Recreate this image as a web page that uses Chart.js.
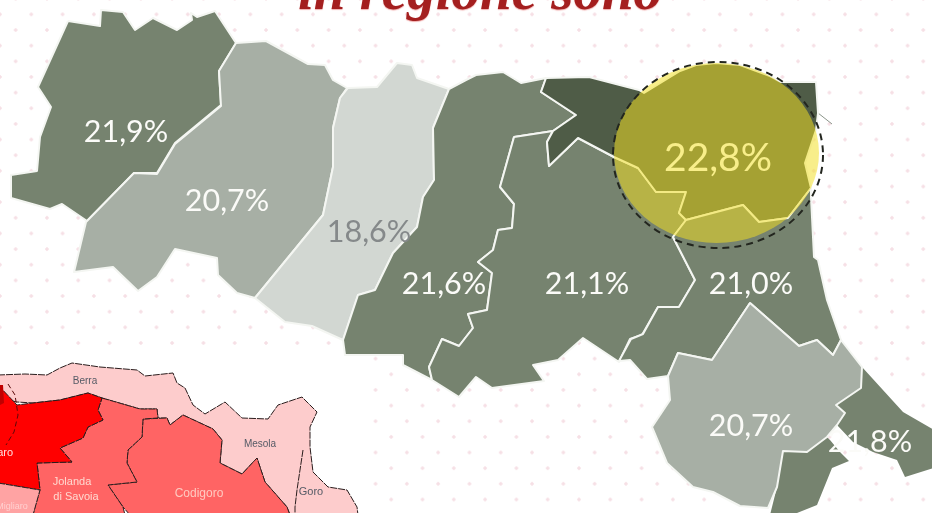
<!DOCTYPE html>
<html lang="it">
<head>
<meta charset="utf-8">
<title>in regione sono</title>
<script src="https://cdn.jsdelivr.net/npm/chart.js"></script>
<style>
  html, body { margin: 0; padding: 0; width: 932px; height: 513px; overflow: hidden; }
  body {
    background-color: #fff;
    background-image:
      radial-gradient(circle, #f6dfe5 1.4px, rgba(255,255,255,0) 2px),
      radial-gradient(circle, #f6dfe5 1.4px, rgba(255,255,255,0) 2px);
    background-size: 31.3px 31.3px;
    background-position: 0px 14.4px, 15.65px 30px;
  }
  #wrap { position: absolute; left: 0; top: 0; width: 932px; height: 513px; }
  canvas { filter: blur(0.6px); }
</style>
</head>
<body>
<div id="wrap"><canvas id="map"></canvas></div>
<script>
// values
const provinces = ['Piacenza', 'Parma', 'Reggio Emilia', 'Modena', 'Bologna', 'Ravenna', 'Forlì-Cesena', 'Rimini', 'Ferrara'];
const provinceValues = [21.9, 20.7, 18.6, 21.6, 21.1, 21.0, 20.7, 21.8, 22.8];

// province outlines, in picture units
const piacenza = [[68,21],[100,26],[101,10],[123,12],[135,30],[153,18],[177,30],[192,20],[191,13],[197,17],[215,11],[236,43],[219,71],[221,105],[175,143],[157,173],[134,173],[87,221],[62,204],[50,209],[11,198],[11,175],[37,171],[40,137],[51,107],[38,87]];
const parma = [[236,43],[266,41],[308,64],[325,65],[333,80],[347,88],[340,98],[333,128],[333,167],[323,215],[255,298],[237,293],[218,275],[217,258],[175,249],[157,277],[138,291],[113,267],[74,272],[86,222],[134,173],[157,174],[175,144],[221,106],[219,71]];
const reggio = [[348,88],[377,87],[397,63],[412,65],[417,78],[449,89],[433,128],[434,180],[423,197],[417,227],[393,253],[375,290],[358,295],[343,340],[312,326],[285,322],[255,298],[323,215],[333,167],[333,128],[340,98]];
const modena = [[449,89],[466,80],[476,75],[503,72],[521,83],[546,78],[541,92],[576,115],[553,131],[514,137],[500,187],[514,204],[512,228],[498,230],[493,250],[478,262],[492,273],[487,310],[468,314],[473,328],[459,346],[442,339],[429,367],[432,380],[403,365],[403,355],[345,355],[343,340],[358,295],[375,290],[393,253],[417,227],[423,197],[434,180],[433,128]];
const bologna = [[514,137],[553,131],[547,142],[549,166],[578,138],[614,157],[638,168],[656,192],[686,192],[679,213],[686,220],[673,237],[695,280],[679,307],[658,307],[642,335],[630,339],[619,362],[583,338],[558,360],[533,365],[544,381],[492,388],[476,377],[459,397],[432,380],[429,367],[442,339],[459,346],[473,328],[468,314],[487,310],[492,273],[478,262],[493,250],[498,230],[512,228],[514,204],[500,187]];
const ferrara = [[546,78],[589,77],[639,90],[644,93],[680,71],[696,65],[716,63],[740,65],[770,76],[781,82],[816,82],[818,113],[816,130],[805,163],[811,188],[788,218],[759,222],[743,205],[686,220],[679,213],[686,192],[656,192],[638,168],[614,157],[578,138],[549,166],[547,142],[553,131],[576,115],[541,92]];
const ravenna = [[673,237],[686,220],[743,205],[759,222],[788,218],[811,188],[811,197],[814,257],[818,260],[827,300],[841,340],[833,355],[817,340],[799,346],[750,303],[712,360],[678,353],[668,376],[647,379],[630,360],[619,361],[631,339],[643,334],[658,307],[679,307],[695,280]];
const forli = [[750,303],[799,346],[817,340],[833,355],[841,340],[862,367],[861,388],[836,405],[845,413],[837,425],[827,437],[807,452],[783,451],[777,487],[768,508],[740,506],[713,492],[693,487],[667,463],[652,427],[670,400],[668,376],[678,353],[712,360]];
const rimini = [[862,367],[903,412],[934,430],[934,468],[905,477],[897,460],[873,452],[853,442],[837,425],[845,413],[836,405],[861,388]];
const riminiSouth = [[783,451],[807,452],[827,437],[830,440],[840,452],[849,461],[832,468],[817,505],[797,513],[770,515],[777,487]];
const coastSpur = [[818,113],[832,124]];

// inset map, lower left
const insetPaper = [[0,348],[368,348],[368,515],[0,515]];
const insetBerra = [[-2,375],[25,374],[47,375],[60,368],[72,363],[100,367],[137,370],[145,376],[173,373],[177,383],[185,388],[193,405],[205,414],[225,402],[242,418],[268,419],[278,405],[302,397],[317,412],[310,427],[310,447],[313,472],[328,487],[347,490],[357,507],[358,515],[290,515],[287,507],[265,482],[257,458],[242,474],[220,463],[222,440],[213,429],[183,415],[170,425],[167,418],[158,418],[157,409],[140,409],[102,398],[88,393],[60,400],[33,403],[17,402],[-2,398]];
const insetGoro = [[303,450],[297,490],[295,507],[295,515]];
const insetCodigoro = [[143,419],[167,418],[170,425],[183,415],[213,429],[222,440],[220,463],[242,474],[257,458],[265,482],[287,507],[290,515],[130,515],[123,507],[108,485],[137,482],[127,463],[128,450],[142,437]];
const insetJolanda = [[102,398],[140,409],[157,409],[158,418],[143,419],[142,437],[128,450],[127,463],[137,482],[108,485],[123,507],[125,515],[33,515],[35,507],[40,490],[37,463],[72,462],[60,448],[83,438],[88,427],[103,420],[98,410]];
const insetCopparo = [[-2,385],[17,405],[33,403],[60,400],[88,393],[102,398],[98,410],[103,420],[88,427],[83,438],[60,448],[72,462],[37,463],[40,490],[-2,483]];
const insetLower = [[-2,483],[40,490],[33,515],[-2,515]];
const insetCorner = [[-2,385],[3,385],[4,403],[-2,406]];
const insetRing = [[8,384],[15,395],[18,415],[14,432],[6,445]];

// colours and text placement
const regionFill = { high: '#76836f', low: '#a7afa5', lowest: '#d2d7d2', peak: '#4f5c47' };
const labelSpots = [[126,132],[227,201],[369,232],[444,284],[587,284],[751,284],[751,426],[870,442],[718,158]];
const insetTexts = [
  ['Berra', 85, 381, 10, '#555b66'], ['Mesola', 260, 444, 10, '#555b66'], ['Goro', 311, 492, 11, '#555b66'],
  ['Jolanda', 72, 482, 11, '#ffd9d0'], ['di Savoia', 76, 497, 11, '#ffd9d0'], ['Codigoro', 199, 494, 12, '#ffc9c0'],
  ['Copparo', -8, 453, 11, '#ffe0e0'], ['Migliaro', 12, 507, 9, '#ffd0d0']
];

function shape(outline, fillColor, extra) {
  const closed = outline.concat([outline[0]]);
  return Object.assign({
    data: closed.map(p => ({ x: p[0], y: p[1] })),
    showLine: true,
    fill: 'shape',
    tension: 0,
    pointRadius: 0,
    backgroundColor: fillColor,
    borderColor: '#f4f6f2',
    borderWidth: 2,
    borderJoinStyle: 'round'
  }, extra || {});
}

function stroke(path, color, width, dash) {
  return {
    data: path.map(p => ({ x: p[0], y: p[1] })),
    showLine: true, fill: false, tension: 0, pointRadius: 0,
    borderColor: color, borderWidth: width, borderDash: dash || []
  };
}

const insetEdge = { borderColor: '#2a1d1d', borderWidth: 1, borderDash: [7, 1] };

const mapText = {
  id: 'mapText',
  afterDatasetsDraw(chart) {
    const ctx = chart.ctx;
    const sx = chart.scales.x, sy = chart.scales.y;
    const px = v => sx.getPixelForValue(v), py = v => sy.getPixelForValue(v);
    ctx.save();

    // highlight over the top province
    ctx.beginPath();
    ctx.ellipse(px(716.5), py(153), 102.5, 90, 0, 0, Math.PI * 2);
    ctx.fillStyle = 'rgba(241,223,34,0.53)';
    ctx.fill();
    ctx.beginPath();
    ctx.ellipse(px(718), py(155), 105, 93, 0, 0, Math.PI * 2);
    ctx.setLineDash([7, 5]);
    ctx.lineWidth = 2;
    ctx.strokeStyle = '#23261f';
    ctx.stroke();
    ctx.setLineDash([]);

    // title, cut by the top of the picture
    ctx.textAlign = 'center';
    ctx.textBaseline = 'alphabetic';
    ctx.font = 'italic bold 57px "Liberation Serif"';
    ctx.shadowColor = 'rgba(230,120,120,0.6)';
    ctx.shadowOffsetY = 1;
    ctx.shadowBlur = 1;
    ctx.fillStyle = '#a41f1f';
    ctx.fillText('in regione sono', px(480), py(9));
    ctx.shadowColor = 'transparent';
    ctx.shadowOffsetY = 0;
    ctx.shadowBlur = 0;

    // province values
    ctx.textBaseline = 'middle';
    provinceValues.forEach((v, i) => {
      const peak = provinces[i] === 'Ferrara';
      const faint = v < 20;
      ctx.font = (peak ? '39px' : '30.5px') + ' Lato';
      ctx.fillStyle = peak ? '#f8ee8a' : faint ? '#85898a' : '#fbfbf8';
      ctx.fillText(v.toFixed(1).replace('.', ',') + '%', px(labelSpots[i][0]), py(labelSpots[i][1]));
    });

    // inset names
    insetTexts.forEach(t => {
      ctx.font = t[3] + 'px "Liberation Sans"';
      ctx.fillStyle = t[4];
      ctx.fillText(t[0], px(t[1]), py(t[2]));
    });
    ctx.restore();
  }
};

// Chart.js paints the first dataset last, so the list is written bottom-up and flipped
const layers = [
  shape(insetPaper, '#ffffff', { borderWidth: 0 }),
  shape(insetBerra, '#fdcccc', insetEdge),
  shape(insetCodigoro, '#ff6464', insetEdge),
  shape(insetJolanda, '#ff6464', insetEdge),
  shape(insetCopparo, '#ff0000', insetEdge),
  shape(insetCorner, '#c00000', { borderWidth: 0 }),
  shape(insetLower, '#ffa3a3', insetEdge),
  stroke(insetGoro, '#2a1d1d', 1, [7, 1]),
  stroke(insetRing, '#5a0a0a', 1, [5, 3]),
  stroke(coastSpur, '#8b958a', 1),
  shape(riminiSouth, regionFill.high, { borderWidth: 0 }),
  shape(rimini, regionFill.high, { borderWidth: 0 }),
  shape(piacenza, regionFill.high),
  shape(parma, regionFill.low),
  shape(reggio, regionFill.lowest),
  shape(modena, regionFill.high),
  shape(bologna, regionFill.high),
  shape(ferrara, regionFill.peak),
  shape(ravenna, regionFill.high),
  shape(forli, regionFill.low)
];

new Chart(document.getElementById('map'), {
  type: 'scatter',
  data: { datasets: layers.reverse() },
  options: {
    responsive: true,
    maintainAspectRatio: false,
    animation: false,
    layout: { padding: 0 },
    plugins: { legend: { display: false }, tooltip: { enabled: false } },
    scales: {
      x: { type: 'linear', display: false, min: 0, max: 932 },
      y: { type: 'linear', display: false, min: 0, max: 513, reverse: true }
    }
  },
  plugins: [mapText]
});
</script>
</body>
</html>
